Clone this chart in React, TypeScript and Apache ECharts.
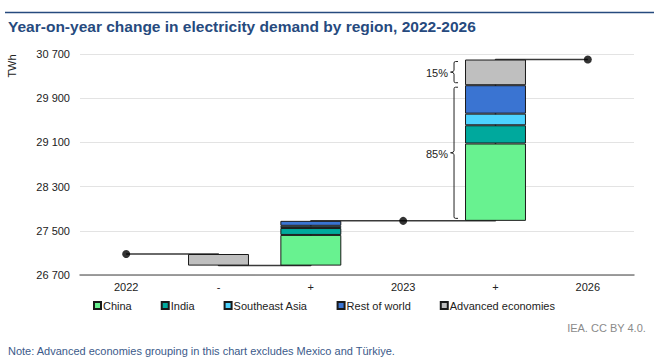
import React, { useEffect, useRef } from "react";
import * as echarts from "echarts";

const categories = ["2022", "-", "+", "2023", "+", "2026"];
const regions = ["China", "India", "Southeast Asia", "Rest of world", "Advanced economies"];
const regionColors = ["#68F290", "#00A99D", "#4DD3FF", "#3A74D2", "#BFBFBF"];
const demand2022 = 27080;
const change2023 = [555, 125, 40, 90, -210];
const change2026 = [1400, 330, 210, 515, 465];
const shareLabels = ["85%", "15%"];
const yTickMin = 26700;
const yTickMax = 30700;
const yTickStep = 800;

const fmt = (n: number) => String(Math.round(n)).replace(/\B(?=(\d{3})+(?!\d))/g, " ");

export default function App() {
  const ref = useRef<HTMLDivElement>(null);
  useEffect(() => {
    if (!ref.current) return;
    const chart = echarts.init(ref.current, null, { renderer: "svg" });
    const B = yTickMin;
    const neg2023 = change2023.filter((v) => v < 0).reduce((a, b) => a + b, 0);
    const pos2023 = change2023.filter((v) => v > 0).reduce((a, b) => a + b, 0);
    const low2023 = demand2022 + neg2023;
    const demand2023 = low2023 + pos2023;
    const demand2026 = demand2023 + change2026.reduce((a, b) => a + b, 0);
    const levels = [demand2022, low2023, demand2023, demand2023, demand2026, demand2026];
    const totals: (number | string)[] = [demand2022, "-", "-", demand2023, "-", demand2026];
    const baseData = ["-", low2023 - B, low2023 - B, "-", demand2023 - B, "-"];

    const regionSeries = regions.map((name, i) => {
      const c23 = change2023[i];
      return {
        name,
        type: "bar",
        stack: "w",
        barWidth: "66%",
        z: 3,
        itemStyle: { color: regionColors[i], borderColor: "#1a1a1a", borderWidth: 1 },
        data: [
          "-",
          c23 < 0 ? -c23 : "-",
          c23 > 0 ? c23 : "-",
          "-",
          change2026[i] > 0 ? change2026[i] : "-",
          "-",
        ],
      };
    });

    const advIdx = regions.length - 1;
    const otherSum = change2026.slice(0, advIdx).reduce((a, b) => a + b, 0);
    const brackets = [
      [4, demand2023 - B, demand2023 + otherSum - B],
      [4, demand2023 + otherSum - B, demand2026 - B],
    ];

    chart.setOption({
      animation: false,
      textStyle: { fontFamily: "Liberation Sans, Arial, sans-serif" },
      grid: { left: 80, right: 20, top: 54, bottom: 85 },
      legend: {
        data: regions,
        left: 88,
        top: 295,
        icon: "rect",
        itemWidth: 7,
        itemHeight: 7,
        itemGap: 29,
        textStyle: { fontSize: 11, color: "#222", padding: [0, 0, 0, -3] },
      },
      xAxis: {
        type: "category",
        data: categories,
        axisTick: { show: false },
        axisLine: { lineStyle: { color: "#7f7f7f", width: 1.5 } },
        axisLabel: { color: "#222", fontSize: 11, margin: 6 },
      },
      yAxis: {
        type: "value",
        min: 0,
        max: yTickMax - yTickMin,
        interval: yTickStep,
        axisLine: { show: false },
        axisTick: { show: false },
        splitLine: { lineStyle: { color: "#e3e3e3", width: 1 } },
        axisLabel: { color: "#222", fontSize: 11, margin: 10, formatter: (v: number) => fmt(v + B) },
      },
      graphic: [
        { type: "line", shape: { x1: 5, y1: 12.5, x2: 654, y2: 12.5 }, style: { stroke: "#264A7E", lineWidth: 1.5 } },
        {
          type: "text",
          left: 8,
          top: 18,
          style: { text: "Year-on-year change in electricity demand by region, 2022-2026", fill: "#264A7E", font: "bold 15.5px Liberation Sans, Arial, sans-serif" },
        },
        {
          type: "text",
          x: 12,
          y: 66,
          rotation: Math.PI / 2,
          style: { text: "TWh", fill: "#222", font: "11px Liberation Sans, Arial, sans-serif", align: "center", verticalAlign: "middle" },
        },
        {
          type: "text",
          right: 8,
          top: 322,
          style: { text: "IEA. CC BY 4.0.", fill: "#8a8a8a", font: "11px Liberation Sans, Arial, sans-serif" },
        },
        {
          type: "text",
          left: 8,
          top: 345,
          style: { text: "Note: Advanced economies grouping in this chart excludes Mexico and Türkiye.", fill: "#3B5A8A", font: "11px Liberation Sans, Arial, sans-serif" },
        },
      ],
      series: [
        {
          name: "base",
          type: "bar",
          stack: "w",
          barWidth: "66%",
          z: 3,
          itemStyle: { color: "rgba(0,0,0,0)" },
          data: baseData,
          silent: true,
        },
        ...regionSeries,
        {
          name: "level",
          type: "line",
          step: "end",
          z: 1,
          symbol: "none",
          lineStyle: { color: "#3a3a3a", width: 1.5 },
          data: levels.map((v) => v - B),
        },
        {
          name: "total",
          type: "scatter",
          z: 5,
          symbolSize: 8,
          itemStyle: { color: "#000" },
          data: totals.map((v) => (typeof v === "number" ? v - B : "-")),
        },
        {
          name: "brackets",
          type: "custom",
          z: 5,
          clip: false,
          data: brackets,
          renderItem: (params: any, api: any) => {
            const cx = api.coord([api.value(0), api.value(1)])[0];
            const p1 = api.coord([api.value(0), api.value(1)])[1];
            const p2 = api.coord([api.value(0), api.value(2)])[1];
            const half = api.size([1, 0])[0] * 0.33;
            const bx = cx - half - 11;
            const top = Math.min(p1, p2) + 2;
            const bot = Math.max(p1, p2) - 2.5;
            const mid = (top + bot) / 2;
            const d = `M${bx + 4},${top} L${bx + 1.5},${top} Q${bx},${top} ${bx},${top + 1.5} L${bx},${mid - 2} Q${bx},${mid} ${bx - 3.5},${mid} Q${bx},${mid} ${bx},${mid + 2} L${bx},${bot - 1.5} Q${bx},${bot} ${bx + 1.5},${bot} L${bx + 4},${bot}`;
            return {
              type: "group",
              children: [
                { type: "path", shape: { pathData: d }, style: { stroke: "#222", fill: "none", lineWidth: 1 } },
                {
                  type: "text",
                  x: bx - 6,
                  y: mid + 1,
                  style: { text: shareLabels[params.dataIndex], fill: "#222", font: "11px Liberation Sans, Arial, sans-serif", align: "right", verticalAlign: "middle" },
                },
              ],
            };
          },
        },
      ],
    });
    return () => chart.dispose();
  }, []);
  return <div ref={ref} style={{ width: 654, height: 360, position: "absolute", left: 0, top: 0 }} />;
}
